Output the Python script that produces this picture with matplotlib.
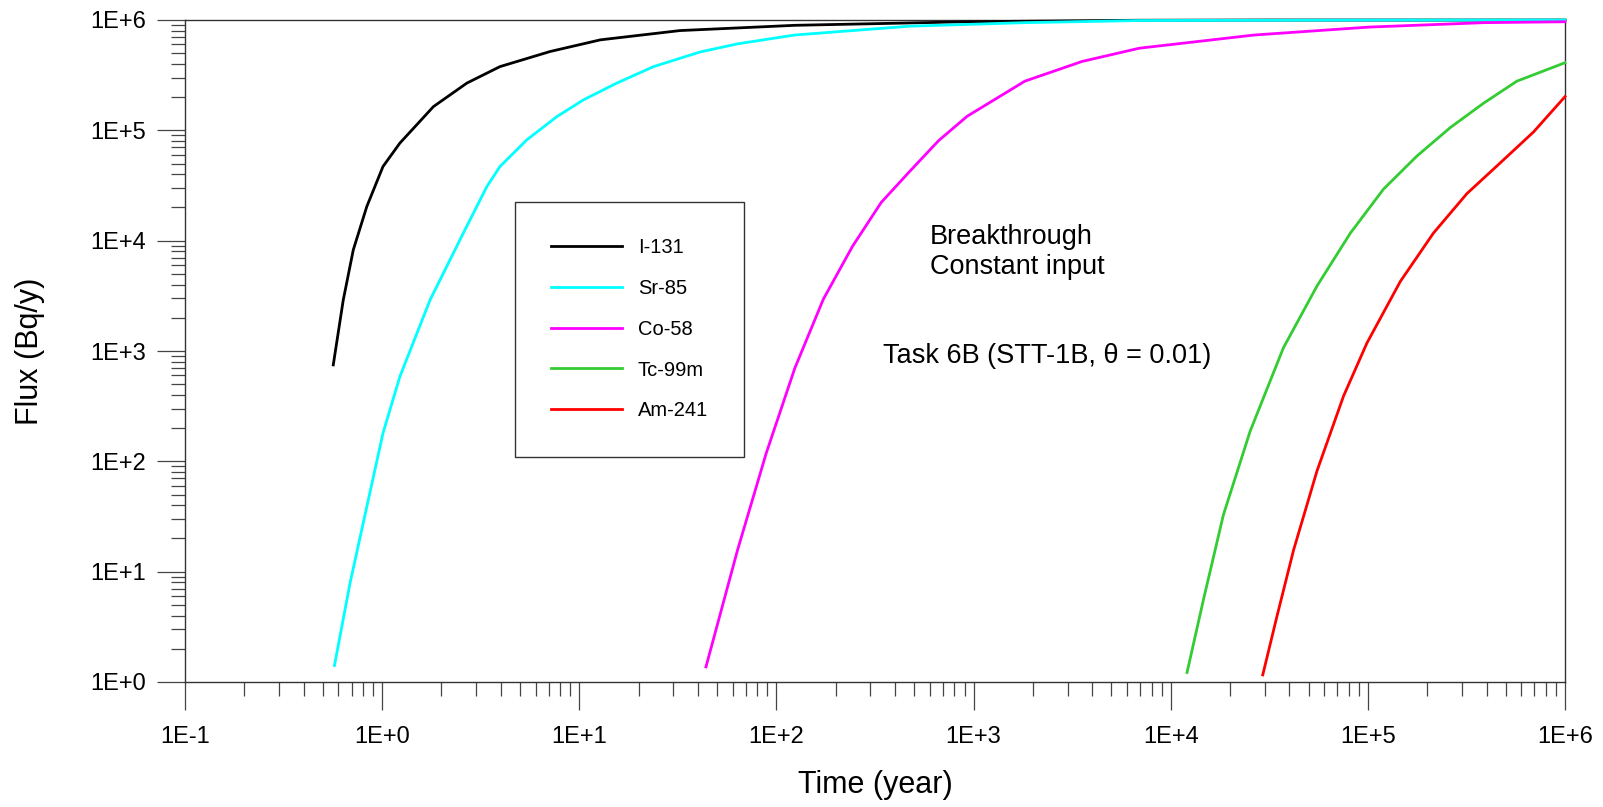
import matplotlib
matplotlib.use("Agg")
import matplotlib.pyplot as plt
from matplotlib.ticker import FixedLocator, FuncFormatter, NullFormatter
import numpy as np

plt.rcParams["font.family"] = ["Liberation Sans", "DejaVu Sans"]

# Breakthrough curves (time in years, flux in Bq/y)
i131_t = [0.565, 0.635, 0.714, 0.836, 1.01, 1.23, 1.82, 2.69, 3.96, 7.11, 12.8, 32.4, 124, 927, 6920, 31600, 1e6]
i131_f = [748, 2900, 8260, 20400, 47000, 76600, 164000, 268000, 378000, 518000, 661000, 802000, 895000, 964000, 995000, 1e6, 1e6]

sr85_t = [0.573, 0.687, 0.836, 1.01, 1.23, 1.75, 2.58, 3.40, 3.96, 5.42, 7.69, 10.5, 15.5, 23.8, 41.0, 63.5, 124, 474, 1810, 6920, 1e5, 1e6]
sr85_f = [1.41, 7.85, 38.8, 180, 586, 2900, 11700, 31000, 47000, 82000, 133000, 189000, 268000, 378000, 513000, 608000, 731000, 879000, 946000, 989000, 998000, 1e6]

co58_t = [43.9, 63.5, 88.7, 124, 173, 243, 340, 474, 664, 927, 1820, 3550, 6930, 26500, 102000, 388000, 1e6]
co58_f = [1.37, 15.7, 118, 700, 2950, 8870, 22200, 42400, 80500, 134000, 279000, 421000, 555000, 731000, 863000, 946000, 964000]

tc99m_t = [12100, 14700, 18500, 25300, 37300, 55200, 81500, 120000, 177000, 262000, 386000, 570000, 1e6]
tc99m_f = [1.22, 5.70, 32.7, 188, 1070, 3880, 11700, 29300, 58300, 106000, 176000, 279000, 410000]

am241_t = [29300, 34600, 42000, 55200, 75300, 98900, 146000, 215000, 318000, 470000, 693000, 1e6]
am241_f = [1.16, 3.95, 15.7, 81.8, 391, 1180, 4260, 11700, 26700, 50800, 96800, 202000]

series = [
    ("I-131", i131_t, i131_f, "black"),
    ("Sr-85", sr85_t, sr85_f, "#00FFFF"),
    ("Co-58", co58_t, co58_f, "#FF00FF"),
    ("Tc-99m", tc99m_t, tc99m_f, "#33CC33"),
    ("Am-241", am241_t, am241_f, "#FF0000"),
]

x_decades = list(range(-1, 7))
y_decades = list(range(0, 7))

W, H = 1603, 807
fig = plt.figure(figsize=(W / 100, H / 100), dpi=100)
ax = fig.add_axes([185 / W, 1 - 682 / H, 1380 / W, 662 / H])

for name, t, f, c in series:
    ax.plot(t, f, color=c, lw=2.0, label=name, clip_on=False, zorder=3)

ax.set_xscale("log")
ax.set_yscale("log")
ax.set_xlim(0.1, 1e6)
ax.set_ylim(1, 1e6)

fmt = FuncFormatter(lambda v, p: "1E%+d" % int(round(np.log10(v))))
for axis, dec in ((ax.xaxis, x_decades), (ax.yaxis, y_decades)):
    axis.set_major_locator(FixedLocator([10.0 ** d for d in dec]))
    axis.set_minor_locator(FixedLocator([m * 10.0 ** d for d in dec[:-1] for m in range(2, 10)]))
    axis.set_major_formatter(fmt)
    axis.set_minor_formatter(NullFormatter())

ax.tick_params(which="major", direction="out", length=20, width=0.9, color="#444444",
               labelsize=17, labelcolor="black")
ax.tick_params(which="minor", direction="out", length=10, width=0.9, color="#444444")
ax.tick_params(axis="x", which="major", pad=12)
ax.tick_params(axis="y", which="major", pad=8)

for s in ax.spines.values():
    s.set_color("#333333")
    s.set_linewidth(1.0)

fig.text(875 / W, 1 - 785 / H, "Time (year)", fontsize=22, ha="center", va="center")
fig.text(30 / W, 1 - 351 / H, "Flux (Bq/y)", fontsize=22, ha="center", va="center", rotation=90)

leg = ax.legend(loc="upper left", bbox_to_anchor=(515 / W, 1 - 202 / H), bbox_transform=fig.transFigure,
                borderaxespad=0, fontsize=14.5, frameon=True, fancybox=False, edgecolor="black",
                handlelength=3.5, handletextpad=0.8, labelspacing=1.08, borderpad=1.8)
leg.get_frame().set_linewidth(1.0)

fig.text(930 / W, 1 - 244 / H, "Breakthrough", fontsize=19.5, va="baseline")
fig.text(930 / W, 1 - 274 / H, "Constant input", fontsize=19.5, va="baseline")
fig.text(883 / W, 1 - 363 / H, "Task 6B (STT-1B, \u03b8 = 0.01)", fontsize=19.5, va="baseline")

fig.savefig("out.png", dpi=100)
